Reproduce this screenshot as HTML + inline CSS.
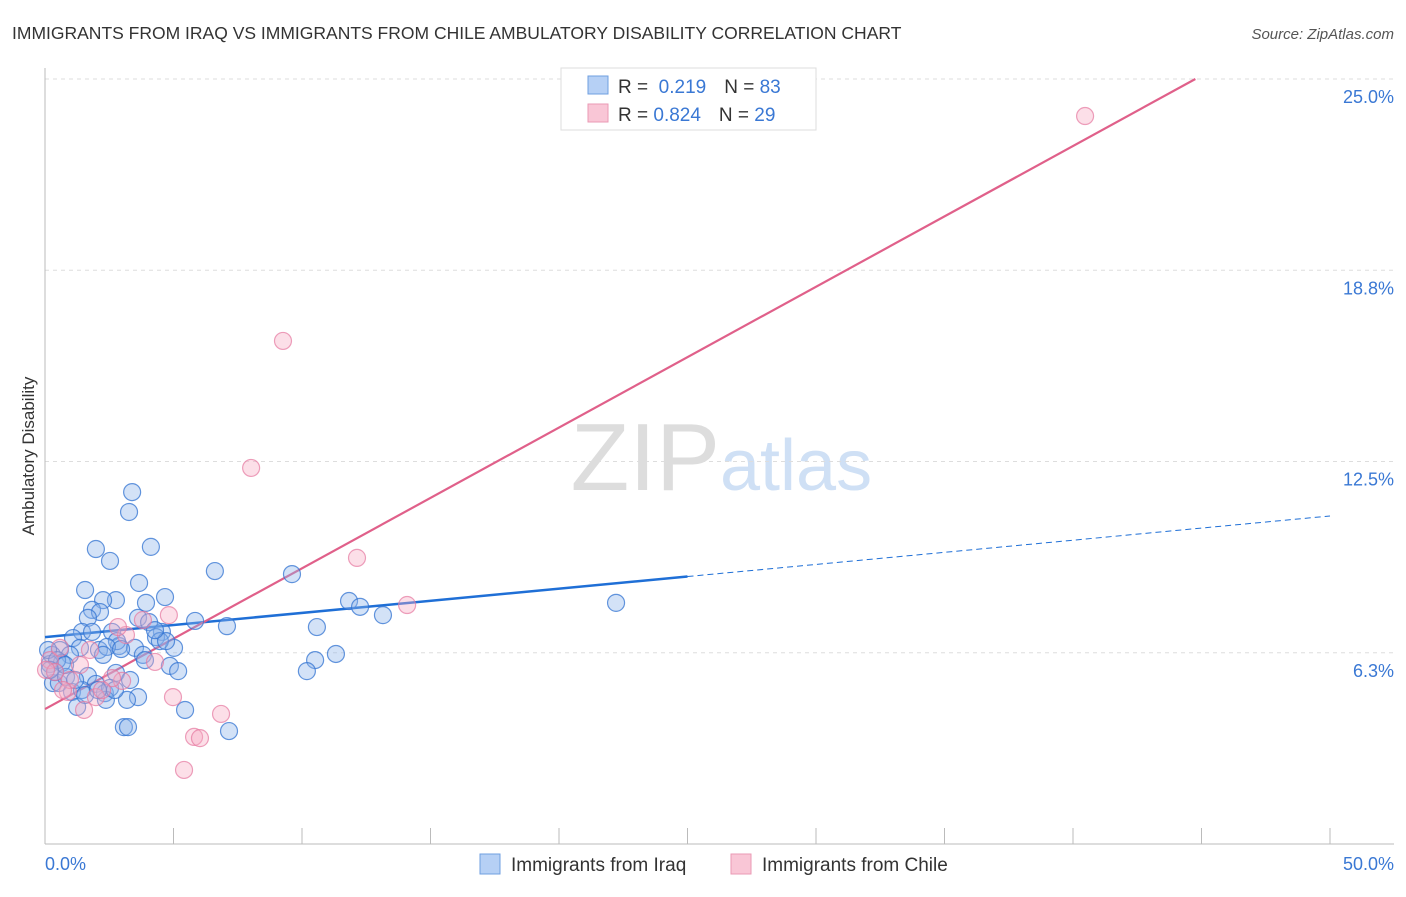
<!DOCTYPE html>
<html><head><meta charset="utf-8"><style>
body{margin:0;background:#fff;font-family:"Liberation Sans",sans-serif}
svg text{font-family:"Liberation Sans",sans-serif}
</style></head><body>
<svg id="chart" width="1406" height="892">
<text x="12" y="39" font-size="17.5" fill="#333">IMMIGRANTS FROM IRAQ VS IMMIGRANTS FROM CHILE AMBULATORY DISABILITY CORRELATION CHART</text>
<text x="1394" y="39" font-size="15" fill="#555" font-style="italic" text-anchor="end">Source: ZipAtlas.com</text>
<text x="720" y="490" font-size="96" fill="#ddd" text-anchor="end" font-family="Liberation Serif">ZIP</text>
<text x="720" y="490" font-size="72" fill="#cfe0f5">atlas</text>
<g id="grid"></g>
<g id="axes"></g>
<g id="lines"></g>
<g id="points"></g>
<text transform="translate(34,456) rotate(-90)" font-size="17" fill="#333" text-anchor="middle">Ambulatory Disability</text>
<text x="45" y="870" font-size="18" fill="#3a78d4">0.0%</text>
<text x="1394" y="870" font-size="18" fill="#3a78d4" text-anchor="end">50.0%</text>
<g>
<rect x="561" y="68" width="255" height="62" fill="#fff" stroke="#ddd"/>
<rect x="588" y="76" width="20" height="18" fill="#b6d0f5" stroke="#6f9fe0"/>
<rect x="588" y="104" width="20" height="18" fill="#f9c6d6" stroke="#ea9ab4"/>
<text x="618" y="93" font-size="19" fill="#333">R = <tspan fill="#3a78d4">&#160;0.219</tspan><tspan dx="18">N = </tspan><tspan fill="#3a78d4">83</tspan></text>
<text x="618" y="121" font-size="19" fill="#333">R = <tspan fill="#3a78d4">0.824</tspan><tspan dx="18">N = </tspan><tspan fill="#3a78d4">29</tspan></text>
</g>
<g><rect x="480" y="854" width="20" height="20" fill="#b6d0f5" stroke="#6f9fe0"/><text x="511" y="871" font-size="19" fill="#333">Immigrants from Iraq</text></g>
<g><rect x="731" y="854" width="20" height="20" fill="#f9c6d6" stroke="#ea9ab4"/><text x="762" y="871" font-size="19" fill="#333">Immigrants from Chile</text></g>
</svg>
<script>
const yTicks=[6.25,12.5,18.75,25];
const yTickLabels=["6.3%","12.5%","18.8%","25.0%"];
const xTicks=[0,5,10,15,20,25,30,35,40,45,50];
const iraqX=[3.39,3.27,1.98,2.53,4.12,6.61,9.61,1.56,3.66,2.76,2.26,4.67,3.93,1.83,2.14,1.67,5.84,7.08,3.62,4.05,1.44,2.61,4.55,4.32,1.09,2.88,1.36,3.50,5.02,2.10,0.58,0.27,0.97,3.81,4.47,4.71,2.80,4.86,5.18,1.67,2.76,0.31,0.54,1.98,2.33,1.05,1.44,2.53,3.62,3.19,2.37,1.25,5.45,3.07,3.23,7.16,11.83,12.26,13.15,10.58,11.32,10.51,10.19,22.22,0.66,0.19,0.39,0.82,0.12,0.47,2.41,2.96,1.83,2.26,3.31,3.89,2.72,0.78,1.17,1.56,2.06,4.28,0.19];
const iraqY=[11.50,10.85,9.64,9.25,9.71,8.92,8.82,8.30,8.53,7.97,7.97,8.07,7.88,7.65,7.58,7.39,7.29,7.12,7.39,7.25,6.93,6.93,6.93,6.76,6.73,6.47,6.41,6.41,6.41,6.34,6.34,6.18,6.18,6.18,6.63,6.63,6.63,5.82,5.65,5.49,5.59,5.26,5.26,5.23,4.93,4.97,5.03,5.10,4.80,4.71,4.71,4.48,4.38,3.82,3.82,3.69,7.94,7.75,7.48,7.09,6.21,6.01,5.65,7.88,5.92,5.88,5.62,5.46,6.34,6.01,6.44,6.37,6.93,6.18,5.36,6.01,5.03,5.85,5.36,4.87,5.03,6.99,5.69];
const chileX=[40.47,9.26,8.02,12.14,14.09,4.82,3.15,4.28,3.81,2.84,4.98,6.85,5.80,6.03,5.41,3.00,2.61,1.98,1.52,0.89,0.19,0.39,0.58,0.97,2.22,1.75,1.36,0.70,0.04];
const chileY=[23.79,16.44,12.29,9.35,7.81,7.48,6.83,5.95,7.32,7.09,4.80,4.25,3.50,3.46,2.42,5.33,5.42,4.80,4.38,4.97,6.01,5.62,6.41,5.36,5.03,6.34,5.85,5.03,5.69];
const iraqFit=[6.76,0.0792]; // intercept, slope
const chileFit=[4.41,0.46];
const NS="http://www.w3.org/2000/svg";
const X0=45,X1=1330,YB=844,YT=79;
const sx=v=>X0+(v/50)*(X1-X0);
const sy=v=>YB-(v/25)*(YB-YT);
function mk(tag,attrs,parent){const e=document.createElementNS(NS,tag);for(const k in attrs)e.setAttribute(k,attrs[k]);document.getElementById(parent).appendChild(e);return e;}
yTicks.forEach((t,i)=>{
 const g=mk('line',{x1:X0,x2:1394,y1:sy(t),y2:sy(t),stroke:'#ddd','stroke-dasharray':'4,4'},'grid');
 
 
 const l=mk('text',{x:1394,y:sy(t)+24,'font-size':18,fill:'#3a78d4','text-anchor':'end'},'grid');
 l.textContent=yTickLabels[i];
 
 
});
const ya=mk('line',{x1:X0,x2:X0,y1:68,y2:YB,stroke:'#bbb'},'axes');


const xa=mk('line',{x1:X0,x2:1394,y1:YB,y2:YB,stroke:'#bbb'},'axes');


xTicks.forEach(t=>{
 const k=mk('line',{x1:sx(t),x2:sx(t),y1:828,y2:YB,stroke:'#bbb'},'axes');
 
 
});
function dot(x,y,f,s,name){
 const c=mk('circle',{cx:sx(x),cy:sy(y),r:8.5,fill:f,stroke:s,'stroke-width':1.2},'points');
 
 
}
iraqX.forEach((x,i)=>dot(x,iraqY[i],'rgba(140,180,235,0.38)','rgba(50,115,210,0.75)','iraq-point'));
chileX.forEach((x,i)=>dot(x,chileY[i],'rgba(248,170,195,0.38)','rgba(230,120,160,0.7)','chile-point'));
const b1=mk('line',{x1:sx(0),y1:sy(iraqFit[0]),x2:sx(25),y2:sy(iraqFit[0]+25*iraqFit[1]),stroke:'#1f6fd6','stroke-width':2.5},'lines');


const b2=mk('line',{x1:sx(25),y1:sy(iraqFit[0]+25*iraqFit[1]),x2:sx(50),y2:sy(iraqFit[0]+50*iraqFit[1]),stroke:'#1f6fd6','stroke-width':1,'stroke-dasharray':'6,4'},'lines');


const xe=(25-chileFit[0])/chileFit[1];
const p1=mk('line',{x1:sx(0),y1:sy(chileFit[0]),x2:sx(xe),y2:sy(25),stroke:'#e0608a','stroke-width':2.2},'lines');


</script>
</body></html>
